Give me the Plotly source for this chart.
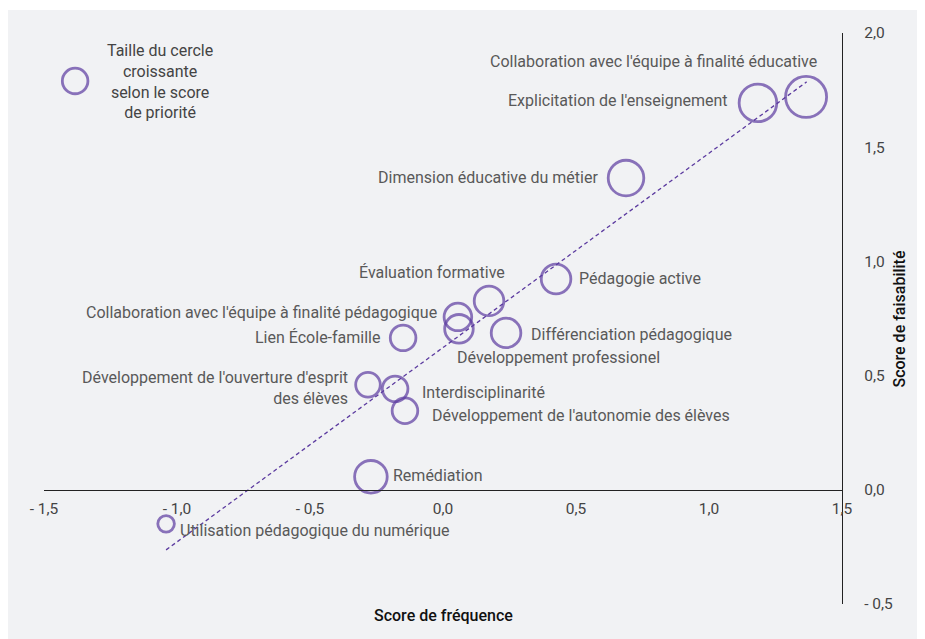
import plotly.graph_objects as go

# ---- data ----
names = [
    "Collaboration avec l'équipe à finalité éducative",
    "Explicitation de l'enseignement",
    "Dimension éducative du métier",
    "Pédagogie active",
    "Évaluation formative",
    "Collaboration avec l'équipe à finalité pédagogique",
    "Développement professionel",
    "Différenciation pédagogique",
    "Lien École-famille",
    "Développement de l'ouverture d'esprit<br>des élèves",
    "Interdisciplinarité",
    "Développement de l'autonomie des élèves",
    "Remédiation",
    "Utilisation pédagogique du numérique",
]
freq = [1.365, 1.184, 0.688, 0.425, 0.173, 0.056, 0.060, 0.237, -0.150, -0.282, -0.180, -0.143, -0.271, -1.041]
feas = [1.720, 1.694, 1.365, 0.923, 0.827, 0.757, 0.705, 0.687, 0.665, 0.460, 0.442, 0.346, 0.057, -0.149]
priority = [2.05, 1.88, 1.78, 1.48, 1.48, 1.38, 1.43, 1.48, 1.28, 1.23, 1.28, 1.28, 1.63, 0.83]

legend_x = [-1.383]
legend_y = [1.790]
legend_priority = [1.28]
legend_text = "Taille du cercle<br>croissante<br>selon le score<br>de priorité"

trend_x = [-1.041, 1.367]
trend_y = [-0.263, 1.786]

x_tickvals = [-1.5, -1.0, -0.5, 0.0, 0.5, 1.0, 1.5]
x_ticktext = ["- 1,5", "- 1,0", "- 0,5", "0,0", "0,5", "1,0", "1,5"]
y_tickvals = [-0.5, 0.0, 0.5, 1.0, 1.5, 2.0]
y_ticktext = ["- 0,5", "0,0", "0,5", "1,0", "1,5", "2,0"]

# ---- label placement (pixel offsets, anchor) ----
label_layout = [
    ("right", 11, 35),
    ("right", -30, 2),
    ("right", -28, 1),
    ("left", 23, 0),
    ("right", 16, 28),
    ("right", -21, 4),
    ("left", -2, -29),
    ("left", 25, -2),
    ("right", -22, 0),
    ("right", -20, -3),
    ("left", 27, -4),
    ("left", 27, -5),
    ("left", 22, 1),
    ("left", 14, -7),
]

PURPLE = "#5b3a9f"
BG = "#f1f2f4"
FONT = "Roboto"
SCALE = 20
LABEL_SIZE = 16

fig = go.Figure()

fig.add_trace(go.Scatter(
    x=trend_x, y=trend_y, mode="lines",
    line=dict(color=PURPLE, width=1.3, dash="4px,3px"),
    hoverinfo="skip", showlegend=False,
))

fig.add_trace(go.Scatter(
    x=freq, y=feas, mode="markers",
    marker=dict(symbol="circle-open", size=[p * SCALE for p in priority],
                color=PURPLE, line=dict(width=2.8, color=PURPLE)),
    text=names, hoverinfo="text", showlegend=False,
))

fig.add_trace(go.Scatter(
    x=legend_x, y=legend_y, mode="markers",
    marker=dict(symbol="circle-open", size=[p * SCALE for p in legend_priority],
                color=PURPLE, line=dict(width=2.8, color=PURPLE)),
    hoverinfo="skip", showlegend=False,
))

annotations = []
for name, x, y, (anc, dx, dy) in zip(names, freq, feas, label_layout):
    annotations.append(dict(
        x=x, y=y, xref="x", yref="y", text=name, showarrow=False,
        xanchor=anc, yanchor="middle", xshift=dx, yshift=dy,
        align=anc, borderpad=0, borderwidth=0,
        font=dict(family=FONT, size=LABEL_SIZE, color="#595959"),
    ))

annotations.append(dict(
    x=legend_x[0], y=legend_y[0], xref="x", yref="y", text=legend_text,
    showarrow=False, xanchor="center", yanchor="middle", xshift=85, yshift=-1,
    align="center", borderpad=0, borderwidth=0,
    font=dict(family=FONT, size=LABEL_SIZE, color="#444444"),
))

# axis titles
annotations.append(dict(
    x=0.5, y=-0.021, xref="paper", yref="paper", text="Score de fréquence",
    showarrow=False, xanchor="center", yanchor="middle",
    font=dict(family=FONT, size=16, color="#111111", weight=500),
))
annotations.append(dict(
    x=1.0715, y=0.5, xref="paper", yref="paper", text="Score de faisabilité",
    showarrow=False, xanchor="center", yanchor="middle", textangle=-90,
    font=dict(family=FONT, size=16, color="#111111", weight=500),
))

fig.update_layout(
    width=917, height=631,
    margin=dict(l=36, r=83, t=25, b=35),
    paper_bgcolor="white",
    plot_bgcolor="rgba(0,0,0,0)",
    font=dict(family=FONT, size=LABEL_SIZE, color="#444444"),
    annotations=annotations,
    shapes=[dict(
        type="rect", xref="paper", yref="paper",
        x0=-0.05, x1=1.2, y0=-0.2, y1=1.0403,
        fillcolor=BG, line=dict(width=0), layer="below",
    )],
    xaxis=dict(
        range=[-1.5, 1.5], showgrid=False, zeroline=False,
        showline=True, linecolor="#222222", linewidth=1.2,
        anchor="free", position=0.1996,
        tickvals=x_tickvals, ticktext=x_ticktext, ticks="",
        tickfont=dict(family=FONT, size=15.5, color="#444444"),
        ticklabelstandoff=4,
    ),
    yaxis=dict(
        range=[-0.5, 2.0], showgrid=False, zeroline=False,
        showline=True, linecolor="#222222", linewidth=1.2,
        side="right", anchor="x",
        tickvals=y_tickvals, ticktext=y_ticktext, ticks="",
        tickfont=dict(family=FONT, size=15.5, color="#444444"),
        ticklabelstandoff=18,
    ),
    hovermode="closest",
)

fig.write_html("out.html")
